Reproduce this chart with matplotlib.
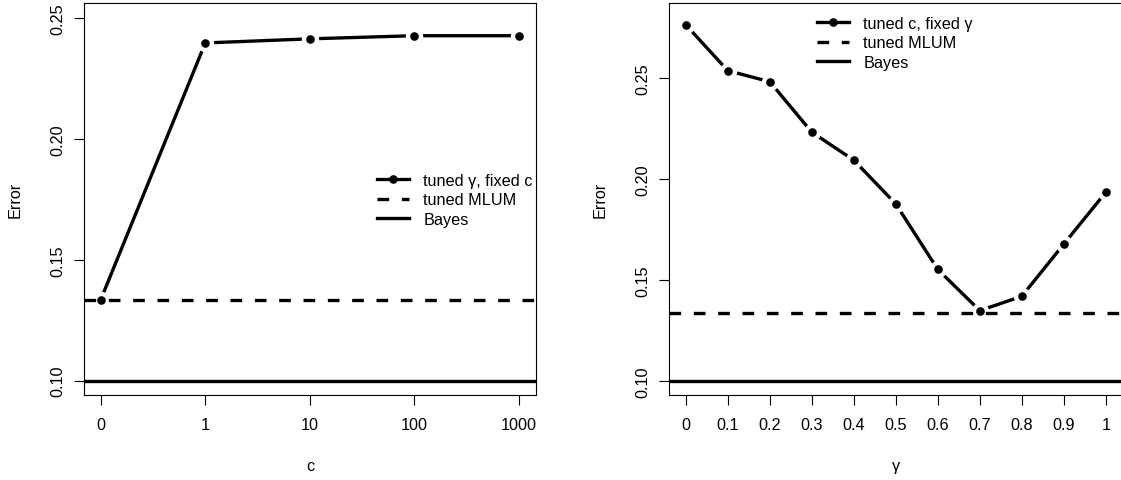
import matplotlib
matplotlib.use('Agg')
import matplotlib.pyplot as plt
from matplotlib.lines import Line2D

plt.rcParams['font.family'] = ['Liberation Sans', 'DejaVu Sans']

# panel 1: error vs c (gamma tuned)
c_labels = ['0', '1', '10', '100', '1000']
c_pos = [0, 1, 2, 3, 4]
err_c = [0.1335, 0.2397, 0.2414, 0.2427, 0.2427]

# panel 2: error vs gamma (c tuned)
gamma_vals = [0.0, 0.1, 0.2, 0.3, 0.4, 0.5, 0.6, 0.7, 0.8, 0.9, 1.0]
gamma_labels = ['0', '0.1', '0.2', '0.3', '0.4', '0.5', '0.6', '0.7', '0.8', '0.9', '1']
err_gamma = [0.2765, 0.2538, 0.2483, 0.2233, 0.2094, 0.1877,
             0.1552, 0.1348, 0.1419, 0.1678, 0.1935]

mlum_err = 0.1335
bayes_err = 0.10
y_ticks = [0.10, 0.15, 0.20, 0.25]

W, H = 1121, 481
fs = 11.7
lw = 2.4

fig = plt.figure(figsize=(W / 100, H / 100), dpi=100)


def px_box(x0, x1, y0, y1):
    return [x0 / W, 1 - y1 / H, (x1 - x0) / W, (y1 - y0) / H]


def panel(ax, x, y, xlabels, xlim, ylim, series_label, leg_xy):
    ax.plot(x, y, '-', color='black', lw=lw, zorder=2, solid_capstyle='butt')
    ax.plot(x, y, 'o', ms=11.5, color='white', mec='white', zorder=3)
    ax.axhline(mlum_err, color='black', lw=lw, ls=(0, (3.5, 3.8)), zorder=4)
    ax.axhline(bayes_err, color='black', lw=lw, zorder=4)
    ax.plot(x, y, 'o', ms=6.2, color='black', mec='black', mew=0, zorder=5)

    ax.set_xlim(*xlim)
    ax.set_ylim(*ylim)
    ax.set_xticks(x)
    ax.set_xticklabels(xlabels)
    ax.set_yticks(y_ticks)
    ax.set_yticklabels(['%.2f' % v for v in y_ticks], rotation=90, va='center')
    ax.tick_params(direction='out', length=7.2, width=0.8, labelsize=fs, colors='black')
    ax.tick_params(axis='x', pad=8.9)
    ax.tick_params(axis='y', pad=6.3)
    for s in ax.spines.values():
        s.set_linewidth(0.8)

    handles = [
        Line2D([], [], color='black', lw=lw, marker='o', ms=5.2),
        Line2D([], [], color='black', lw=lw, ls=(0, (3.5, 3.8))),
        Line2D([], [], color='black', lw=lw),
    ]
    labels = [series_label, 'tuned MLUM', 'Bayes']
    ax.legend(handles, labels, loc='center left',
              bbox_to_anchor=(leg_xy[0] / W, 1 - leg_xy[1] / H),
              bbox_transform=fig.transFigure, frameon=False, fontsize=fs,
              borderpad=0, borderaxespad=0, handlelength=2.0,
              handletextpad=0.86, labelspacing=0.27, numpoints=1)


ax1 = fig.add_axes(px_box(84, 535.7, 4.3, 395.7))
panel(ax1, c_pos, err_c, c_labels, (-0.16, 4.16), (0.0942, 0.2561),
      'tuned \u03b3, fixed c', (376.7, 201))

ax2 = fig.add_axes(px_box(669, 1122.6, 4.3, 395.7))
panel(ax2, gamma_vals, err_gamma, gamma_labels, (-0.04, 1.04), (0.0931, 0.2872),
      'tuned c, fixed \u03b3', (816.7, 44))

# axis titles
fig.text(310 / W, 1 - 471 / H, 'c', ha='center', va='baseline', fontsize=fs)
fig.text(896 / W, 1 - 471 / H, '\u03b3', ha='center', va='baseline', fontsize=fs)
fig.text(19.9 / W, 1 - 200 / H, 'Error', rotation=90, rotation_mode='anchor',
         ha='center', va='baseline', fontsize=fs)
fig.text(605 / W, 1 - 200 / H, 'Error', rotation=90, rotation_mode='anchor',
         ha='center', va='baseline', fontsize=fs)

fig.savefig('out.png', dpi=100)
